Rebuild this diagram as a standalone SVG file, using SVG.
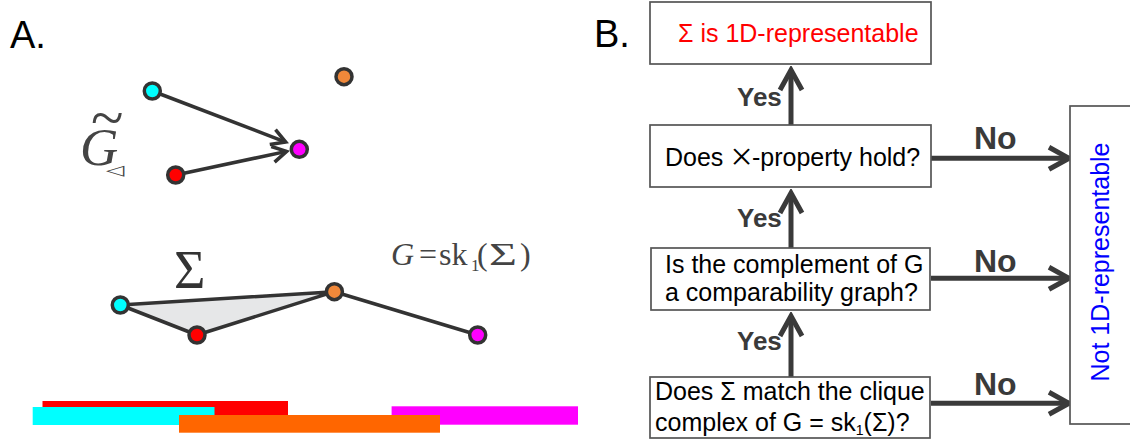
<svg xmlns="http://www.w3.org/2000/svg" width="1130" height="439" viewBox="0 0 1130 439">
<style>
.sans{font-family:"Liberation Sans",Arial,sans-serif}
.serif{font-family:"Liberation Serif","Times New Roman",serif}
.box{fill:#fff;stroke:#555;stroke-width:1.7}
.btxt{font-family:"Liberation Sans",Arial,sans-serif;font-size:25px;fill:#000}
.yes{font-family:"Liberation Sans",Arial,sans-serif;font-size:26px;font-weight:bold;fill:#3a3a3a}
.no{font-family:"Liberation Sans",Arial,sans-serif;font-size:32px;font-weight:bold;fill:#3a3a3a}
.barrow{stroke:#3a3a3a;stroke-width:5;fill:none;marker-end:url(#chevB)}
.aarrow{stroke:#333;stroke-width:3.5;fill:none;marker-end:url(#chevA)}
.edge{stroke:#333;stroke-width:3.5;fill:none}
.node{stroke:#333;stroke-width:3.5}
</style>
<defs>
<marker id="chevB" viewBox="-24 -14 28 28" refX="0" refY="0" markerWidth="28" markerHeight="28" markerUnits="userSpaceOnUse" orient="auto">
<path d="M-20,-11 L0,0 L-20,11" fill="none" stroke="#3a3a3a" stroke-width="5"/>
</marker>
<marker id="chevA" viewBox="-18 -11 24 22" refX="0" refY="0" markerWidth="24" markerHeight="22" markerUnits="userSpaceOnUse" orient="auto">
<path d="M-14,-8 L0,0 L-14,8" fill="none" stroke="#333" stroke-width="3.5"/>
</marker>
</defs>
<rect width="1130" height="439" fill="#fff"/>

<!-- Panel A -->
<text class="sans" x="10" y="48" font-size="38" fill="#000">A.</text>

<g id="panelA-top-connectors">
<line class="aarrow" x1="152.3" y1="91" x2="285.7" y2="142.1"/>
<line class="aarrow" x1="175.7" y1="175" x2="286.6" y2="151.4"/>
</g>
<g id="nodeA-cyan-top"><circle class="node" cx="152.3" cy="91" r="8" fill="#00ffff"/></g>
<g id="nodeA-orange-top"><circle class="node" cx="344" cy="76.7" r="8" fill="#f0883a"/></g>
<g id="nodeA-magenta-top"><circle class="node" cx="299.3" cy="149.3" r="8" fill="#ff00ff"/></g>
<g id="nodeA-red-top"><circle class="node" cx="175.7" cy="175" r="8" fill="#ff0000"/></g>

<g id="label-Gtilde" fill="#444">
<text class="serif"><tspan x="80" y="165" font-size="53" font-style="italic">G</tspan><tspan x="91" y="138" font-size="60">~</tspan></text>
<text font-family="DejaVu Sans, sans-serif" font-size="30" transform="translate(106,175) scale(0.8,0.48)">◁</text>
</g>

<g id="simplex-connectors">
<polygon points="120.3,305 197,335 334.4,291.7" fill="#e6e7e8" stroke="#333" stroke-width="3.5" stroke-linejoin="round"/>
<line class="edge" x1="334.4" y1="291.7" x2="477.7" y2="335"/>
</g>
<g id="nodeA-cyan"><circle class="node" cx="120.3" cy="305" r="8" fill="#00ffff"/></g>
<g id="nodeA-red"><circle class="node" cx="197" cy="335" r="8" fill="#ff0000"/></g>
<g id="nodeA-orange"><circle class="node" cx="334.4" cy="291.7" r="8" fill="#f0883a"/></g>
<g id="nodeA-magenta"><circle class="node" cx="477.7" cy="335" r="8" fill="#ff00ff"/></g>

<text class="serif" x="174" y="288" font-size="54" fill="#333">Σ</text>

<g id="label-G-sk" class="serif" fill="#444" font-size="32">
<text y="265"><tspan x="391" font-style="italic">G</tspan><tspan x="419">=</tspan><tspan x="439">sk</tspan><tspan x="471" y="271" font-size="17">1</tspan><tspan x="477" y="265">(</tspan><tspan x="520">)</tspan></text>
<text transform="translate(489,265) scale(1.5,1)">Σ</text>
</g>

<g id="bars">
<rect x="42.5" y="401" width="245.5" height="14" fill="#ff0000"/>
<rect x="32.7" y="407" width="181.8" height="18" fill="#00ffff"/>
<rect x="391.6" y="406.3" width="186.4" height="18.4" fill="#ff00ff"/>
<rect x="179" y="415" width="261" height="17.7" fill="#ff6600"/>
</g>

<!-- Panel B -->
<text class="sans" x="594" y="47" font-size="38" fill="#000">B.</text>

<g id="connectors">
<line class="barrow" x1="791" y1="125" x2="791" y2="70"/>
<line class="barrow" x1="791" y1="248" x2="791" y2="193"/>
<line class="barrow" x1="791" y1="377" x2="791" y2="316"/>
<line class="barrow" x1="931" y1="158.3" x2="1069" y2="158.3"/>
<line class="barrow" x1="931" y1="278.3" x2="1069" y2="278.3"/>
<line class="barrow" x1="931" y1="403.3" x2="1069" y2="403.3"/>
<text class="yes" x="737" y="106">Yes</text>
<text class="yes" x="737" y="227">Yes</text>
<text class="yes" x="737" y="350">Yes</text>
<text class="no" x="974" y="149">No</text>
<text class="no" x="974" y="272">No</text>
<text class="no" x="974" y="395">No</text>
</g>

<g id="node-result">
<rect class="box" x="650" y="2" width="281" height="62"/>
<text class="btxt" x="678" y="42" style="fill:#ff0000">Σ is 1D-representable</text>
</g>
<g id="node-xproperty">
<rect class="box" x="650" y="125" width="281" height="62"/>
<text class="btxt" x="665" y="165.5">Does <tspan class="serif" font-size="40" dy="4">×</tspan><tspan x="752" dy="-4">-property hold?</tspan></text>
</g>
<g id="node-complement">
<rect class="box" x="651" y="248" width="279" height="62"/>
<text class="btxt" x="665" y="273">Is the complement of G</text>
<text class="btxt" x="665" y="300.5">a comparability graph?</text>
</g>
<g id="node-clique">
<rect class="box" x="650" y="377" width="280" height="61"/>
<text class="btxt" x="655" y="399.5">Does Σ match the clique</text>
<text class="btxt" x="655" y="431">complex of G = sk<tspan font-size="14" dy="4">1</tspan><tspan dy="-4">(Σ)?</tspan></text>
</g>
<g id="node-not">
<rect class="box" x="1070" y="106" width="62" height="318"/>
<text class="sans" font-size="25" fill="#0000ff" text-anchor="middle" transform="translate(1109,262) rotate(-90)">Not 1D-representable</text>
</g>
</svg>
